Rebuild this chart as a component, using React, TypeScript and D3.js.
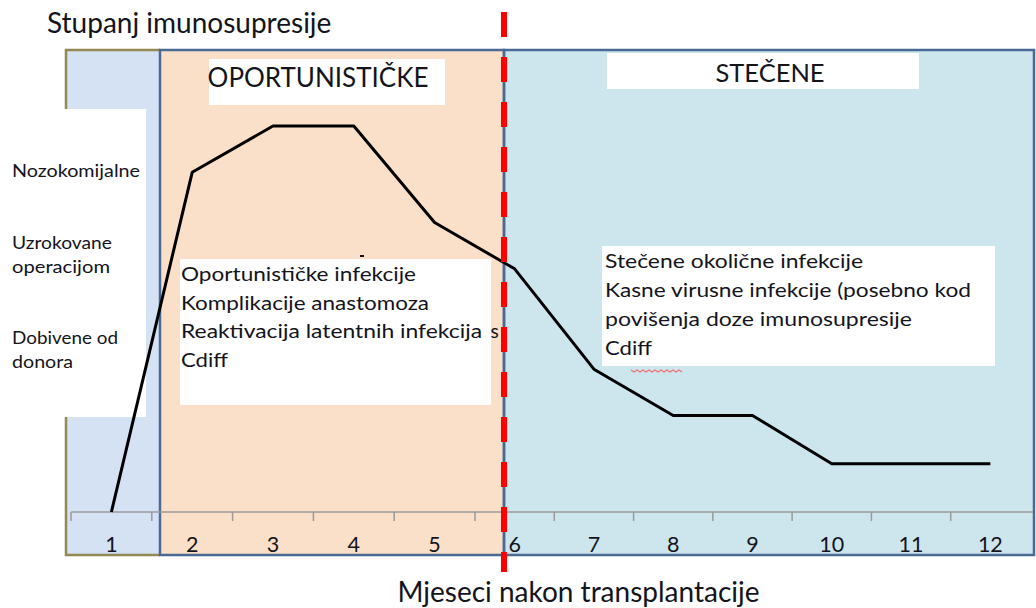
import React from "react";
import * as d3 from "d3";

const months: number[] = [1, 2, 3, 4, 5, 6, 7, 8, 9, 10, 11, 12];
const immunosuppression: number[] = [0, 88, 100, 100, 75, 63, 37, 25, 25, 12.5, 12.5, 12.5];

const yTitle = "Stupanj imunosupresije";
const xTitle = "Mjeseci nakon transplantacije";
const leftLabels: string[][] = [["Nozokomijalne"], ["Uzrokovane", "operacijom"], ["Dobivene od", "donora"]];
const periodTitles: string[] = ["OPORTUNISTIČKE", "STEČENE"];
const opportunisticLines: string[] = [
  "Oportunističke infekcije",
  "Komplikacije anastomoza",
  "Reaktivacija latentnih infekcija",
  "Cdiff",
];
const acquiredLines: string[] = [
  "Stečene okolične infekcije",
  "Kasne virusne infekcije (posebno kod",
  "povišenja doze imunosupresije",
  "Cdiff",
];

// layout (pixel widths of text as drawn in the reference)
const leftWidths: number[][] = [[128], [100, 98], [106, 61]];
const leftBaselines: number[][] = [[177], [249, 273], [344, 368]];
const oppWidths: number[] = [235, 248, 301, 47];
const acqWidths: number[] = [258, 366, 307, 47];

const W = 1036;
const H = 608;
const FONT = "Lato, 'Open Sans', sans-serif";
const INK = "#14141c";

export default function App() {
  const x = d3.scaleLinear().domain([0.5, 5.5, 12.5]).range([71, 475, 1030]);
  const y = d3.scaleLinear().domain([0, 100]).range([512, 126]);

  const frameTop = 50;
  const frameBottom = 555;
  const r1 = [66, 160];
  const r2 = [160, 504];
  const r3 = [504, 1034];
  const axisY = y(0);

  const line = d3
    .line<number>()
    .x((_, i) => x(months[i]))
    .y((d) => y(d));

  const tickPos = d3.range(0, months.length).map((i) => x(i + 0.5));

  // spell-check squiggle under "Cdiff"
  const sq: string[] = [];
  const sqX0 = 631;
  const sqY = 370;
  for (let i = 0; i <= 17; i++) {
    sq.push(`${i === 0 ? "M" : "L"}${sqX0 + i * 3},${sqY + (i % 2 === 0 ? 0 : 2)}`);
  }

  return (
    <svg
      width={W}
      height={H}
      viewBox={`0 0 ${W} ${H}`}
      style={{ position: "absolute", left: 0, top: 0, background: "#fff" }}
      fontFamily={FONT}
    >
      {/* backgrounds */}
      <rect x={r1[0]} y={frameTop} width={r1[1] - r1[0]} height={frameBottom - frameTop} fill="#d5e2f3" />
      <rect x={r2[0]} y={frameTop} width={r2[1] - r2[0]} height={frameBottom - frameTop} fill="#fbe0c9" />
      <rect x={r3[0]} y={frameTop} width={r3[1] - r3[0]} height={frameBottom - frameTop} fill="#cde6ee" />
      {/* borders */}
      <path
        d={`M${r1[1]},${frameTop}H${r1[0]}V${frameBottom}H${r1[1]}`}
        fill="none"
        stroke="#938953"
        strokeWidth={2.5}
      />
      <rect x={r2[0]} y={frameTop} width={r2[1] - r2[0]} height={frameBottom - frameTop} fill="none" stroke="#4a6a96" strokeWidth={2.5} />
      <rect x={r3[0]} y={frameTop} width={r3[1] - r3[0]} height={frameBottom - frameTop} fill="none" stroke="#4a6a96" strokeWidth={2.5} />

      {/* axis */}
      <line x1={x(0.5)} x2={1033} y1={axisY} y2={axisY} stroke="#9a9a9a" strokeWidth={1.5} />
      {tickPos.map((t, i) => (
        <line key={i} x1={t} x2={t} y1={axisY} y2={axisY + 9} stroke="#9a9a9a" strokeWidth={1.5} />
      ))}
      {months.map((m) => (
        <text key={m} x={x(m)} y={552} textAnchor="middle" fontSize={21.5} fill={INK}>
          {m}
        </text>
      ))}

      {/* left white label box */}
      <rect x={0} y={109} width={146} height={308} fill="#fff" />
      {leftLabels.map((grp, gi) =>
        grp.map((t, li) => (
          <text
            key={`${gi}-${li}`}
            x={12}
            y={leftBaselines[gi][li]}
            fontSize={16.5}
            fill={INK}
            textLength={leftWidths[gi][li]}
            lengthAdjust="spacingAndGlyphs"
          >
            {t}
          </text>
        ))
      )}

      {/* line */}
      <path d={line(immunosuppression) || ""} fill="none" stroke="#000" strokeWidth={3} strokeLinejoin="round" />

      {/* period title boxes */}
      <rect x={209} y={59} width={236} height={46} fill="#fff" />
      <text x={318} y={87} textAnchor="middle" fontSize={26} fill={INK}>
        {periodTitles[0]}
      </text>
      <rect x={607} y={53} width={312} height={36} fill="#fff" />
      <text x={770} y={82} textAnchor="middle" fontSize={25.5} fill={INK}>
        {periodTitles[1]}
      </text>

      {/* opportunistic text box */}
      <text x={486} y={338} fontSize={19} fill={INK}>is</text>
      <rect x={360} y={255} width={4} height={2} fill={INK} />
      <rect x={180} y={259} width={311} height={146} fill="#fff" />
      {opportunisticLines.map((t, i) => (
        <text
          key={i}
          x={181}
          y={281 + i * 28.7}
          fontSize={19.5}
          fill={INK}
          textLength={oppWidths[i]}
          lengthAdjust="spacingAndGlyphs"
        >
          {t}
        </text>
      ))}

      {/* acquired text box */}
      <rect x={602} y={246} width={393} height={120} fill="#fff" />
      {acquiredLines.map((t, i) => (
        <text
          key={i}
          x={605}
          y={268 + i * 29}
          fontSize={19.5}
          fill={INK}
          textLength={acqWidths[i]}
          lengthAdjust="spacingAndGlyphs"
        >
          {t}
        </text>
      ))}
      <path d={sq.join("")} fill="none" stroke="#f07070" strokeWidth={1.2} />

      {/* red dashed line */}
      <line x1={504} x2={504} y1={12} y2={572} stroke="#ff0000" strokeWidth={6} strokeDasharray="25 20" />

      {/* titles */}
      <text x={47} y={33} fontSize={28} fill={INK}>
        {yTitle}
      </text>
      <text x={578.5} y={602} textAnchor="middle" fontSize={28} fill={INK}>
        {xTitle}
      </text>
    </svg>
  );
}
